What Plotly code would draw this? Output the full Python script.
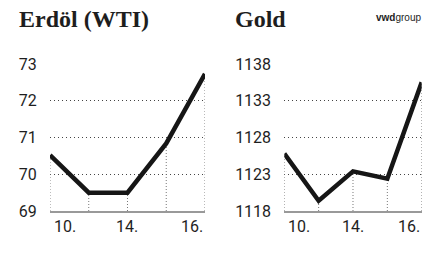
import plotly.graph_objects as go

days = ["10.", "11.", "14.", "15.", "16."]
x_labels = ["10.", "14.", "16."]
oil_values = [70.52, 69.5, 69.5, 70.84, 72.73]
oil_ticks = [69, 70, 71, 72, 73]
gold_values = [1125.8, 1119.4, 1123.4, 1122.4, 1135.5]
gold_ticks = [1118, 1123, 1128, 1133, 1138]
titles = ["Erdöl (WTI)", "Gold"]

NARROW = "Roboto, DejaVu Sans Condensed, sans-serif"
SERIF = "Liberation Serif, DejaVu Serif, serif"
TXT = "#1e1e1e"

fig = go.Figure()
xs = list(range(len(days)))

panels = [
    (oil_values, oil_ticks, "x", "y", [0.1182, 0.4846]),
    (gold_values, gold_ticks, "x2", "y2", [0.6721, 0.9969]),
]

for vals, ticks, xa, ya, dom in panels:
    ymin = ticks[0]
    dx, dy = [], []
    for i, v in zip(xs, vals):
        dx += [i, i, None]
        dy += [ymin, v, None]
    fig.add_trace(go.Scatter(x=dx, y=dy, mode="lines", xaxis=xa, yaxis=ya,
                             line=dict(color="#777", width=1, dash="1px,2px"),
                             hoverinfo="skip", showlegend=False))
    fig.add_trace(go.Scatter(x=xs, y=vals, mode="lines", xaxis=xa, yaxis=ya,
                             line=dict(color="#161616", width=4.5),
                             cliponaxis=False, showlegend=False))

axis_common_y = dict(showgrid=True, griddash="1px,3px", gridcolor="#444", gridwidth=1,
                     zeroline=False, showline=False, ticks="outside", ticklen=9,
                     tickcolor="rgba(0,0,0,0)", automargin=False,
                     tickfont=dict(family=NARROW, size=16, color=TXT))
axis_common_x = dict(range=[0, 4], tickvals=[4], showticklabels=False,
                     showgrid=True, griddash="1px,2px", gridcolor="#777", gridwidth=1,
                     zeroline=False, showline=True, linecolor="#999", linewidth=1.5,
                     ticks="", automargin=False)

fig.update_layout(
    width=423, height=267,
    margin=dict(l=0, r=0, t=0, b=0, pad=0),
    paper_bgcolor="white", plot_bgcolor="white",
    xaxis=dict(domain=panels[0][4], anchor="y", **axis_common_x),
    xaxis2=dict(domain=panels[1][4], anchor="y2", **axis_common_x),
    yaxis=dict(domain=[0.2097, 0.7603], anchor="x", range=[oil_ticks[0], oil_ticks[-1]],
               tickvals=oil_ticks, **axis_common_y),
    yaxis2=dict(domain=[0.2097, 0.7603], anchor="x2", range=[gold_ticks[0], gold_ticks[-1]],
                tickvals=gold_ticks, **axis_common_y),
)

anchors = ["left", "center", "right"]
label_pos = [0, 2, 4]
for xr in ["x", "x2"]:
    for lab, pos, anc in zip(x_labels, label_pos, anchors):
        fig.add_annotation(text=lab, x=pos, xref=xr, y=0.152, yref="paper",
                           xanchor=anc, yanchor="middle", showarrow=False,
                           xshift=2 if anc == "left" else 0,
                           font=dict(family=NARROW, size=16, color=TXT))

fig.add_annotation(text="<b>" + titles[0] + "</b>", x=17 / 423, y=0.93, xref="paper", yref="paper",
                   xanchor="left", yanchor="middle", showarrow=False,
                   font=dict(family=SERIF, size=24, color=TXT))
fig.add_annotation(text="<b>" + titles[1] + "</b>", x=233 / 423, y=0.93, xref="paper", yref="paper",
                   xanchor="left", yanchor="middle", showarrow=False,
                   font=dict(family=SERIF, size=24, color=TXT))
fig.add_annotation(text="<b>vwd</b>group", x=1.0, y=0.935, xref="paper", yref="paper",
                   xanchor="right", yanchor="middle", showarrow=False,
                   font=dict(family="Liberation Sans, Arial, sans-serif", size=10, color=TXT))

fig.write_html("out.html", config={"displayModeBar": False},
               post_script="document.body.style.margin='0';document.body.style.overflow='hidden';")
